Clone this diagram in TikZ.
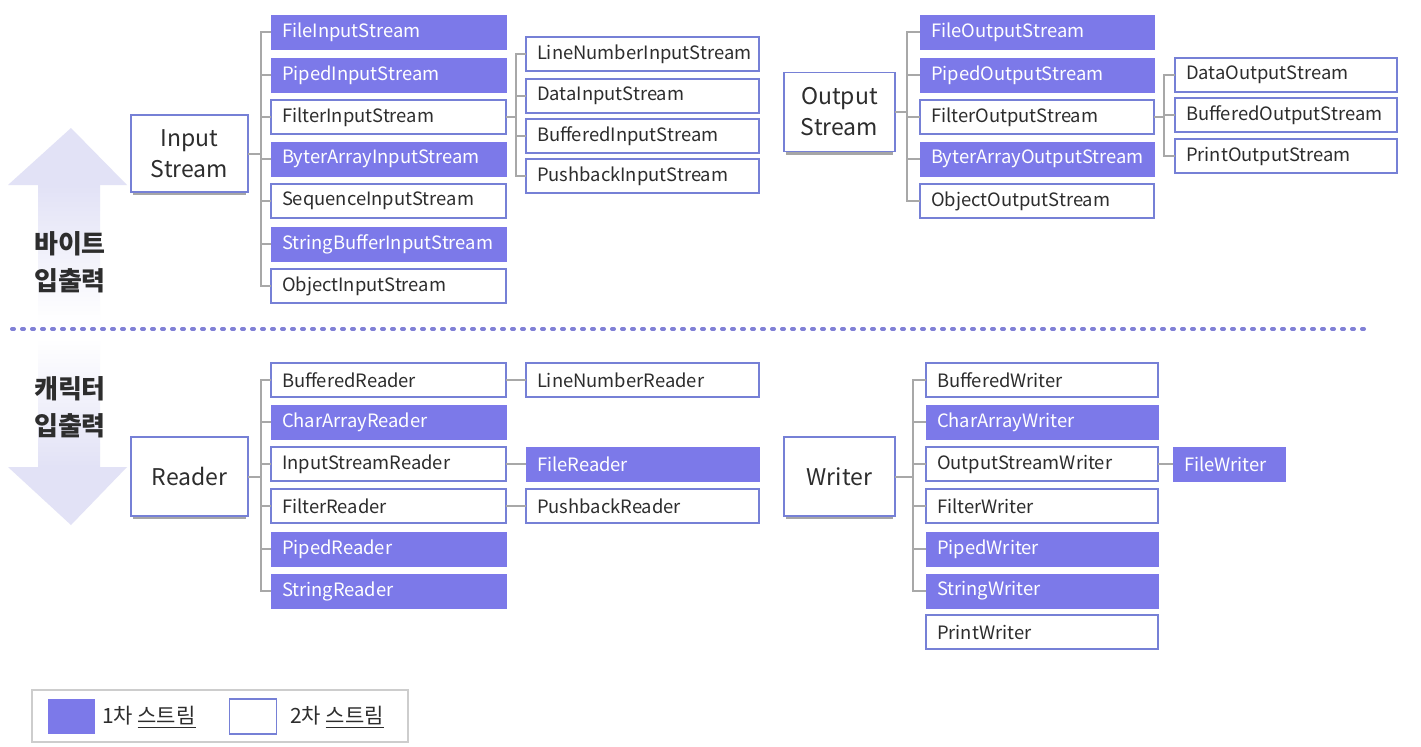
\documentclass[tikz,border=0pt]{standalone}
\usepackage{fontspec}
\setmainfont{Noto Sans CJK KR}
\usetikzlibrary{shadows}
\definecolor{JioPrimary}{RGB}{124,121,233}
\definecolor{JioEdge}{RGB}{118,128,214}
\definecolor{JioInk}{RGB}{45,45,45}
\definecolor{JioLink}{RGB}{168,168,168}
\definecolor{JioDots}{RGB}{128,128,214}
\definecolor{JioArrow}{RGB}{226,226,246}
\definecolor{JioFrame}{RGB}{205,205,205}
\tikzset{
    jio/diagram/.style={
        font=\fontsize{9.2}{11}\selectfont,
        text=JioInk,
        every node/.style={outer sep=0pt}
    },
    jio/cls/.style={
        anchor=west, minimum height=17pt, inner xsep=5.5pt, inner ysep=0pt,
        align=left, yshift=-0.5pt
    },
    jio/primary/.style={jio/cls, fill=JioPrimary, draw=JioPrimary, text=white},
    jio/secondary/.style={jio/cls, fill=white, draw=JioEdge, line width=0.6pt},
    jio/root/.style={
        draw=JioEdge, fill=white, line width=0.6pt, align=center,
        inner sep=0pt, font=\fontsize{11.5}{15.5}\selectfont,
        drop shadow={shadow xshift=0pt, shadow yshift=-2.2pt,
            shadow scale=0.97, fill=black, opacity=0.35}
    },
    jio/link/.style={draw=JioLink, line width=1pt},
    jio/sep/.style={
        draw=JioDots, line width=2pt, line cap=round,
        dash pattern=on 1pt off 4pt
    },
    jio/side/.style={
        align=center, font=\fontsize{13}{18.5}\selectfont\bfseries
    },
    jio/key/.style={minimum width=23.5pt, minimum height=17.5pt, inner sep=0pt},
    jio/keytext/.style={anchor=west, inner sep=0pt, font=\fontsize{10.5}{12}\selectfont}
}
\begin{document}
\begin{tikzpicture}[jio/diagram, x=0.5pt, y=-0.5pt]
    \useasboundingbox[fill=white] (0,0) rectangle (1421,746);
    % side arrows
    \fill[JioArrow] (8,185) -- (71,128) -- (127,185) -- cycle;
    \shade[top color=JioArrow, bottom color=white] (38,185) rectangle (100,322);
    \shade[top color=white, bottom color=JioArrow] (38,338) rectangle (100,467);
    \fill[JioArrow] (8,467) -- (127,467) -- (71,525) -- cycle;
    \node[jio/side] (byteLbl) at (70,262) {바이트\\입출력};
    \node[jio/side] (charLbl) at (70,407) {캐릭터\\입출력};
    \draw[jio/sep] (12,329) -- (1370,329);

    % byte input
    \node[jio/root, minimum width=58.5pt, minimum height=38.5pt] (IS) at (189.5,153.5) {Input\\Stream};
    \foreach \n/\t/\k/\y in {in1/FileInputStream/primary/31, in2/PipedInputStream/primary/74,
        in3/FilterInputStream/secondary/116, in4/ByterArrayInputStream/primary/158,
        in5/SequenceInputStream/secondary/200, in6/StringBufferInputStream/primary/243,
        in7/ObjectInputStream/secondary/285} {
        \node[jio/\k, text width=106.5pt] (\n) at (271,\y) {\t};
    }
    \foreach \n/\t/\y in {fin1/LineNumberInputStream/53, fin2/DataInputStream/95,
        fin3/BufferedInputStream/135, fin4/PushbackInputStream/175} {
        \node[jio/secondary, text width=105.5pt] (\n) at (526,\y) {\t};
    }
    \foreach \i in {1,...,7} {
        \draw[jio/link] (IS.east) -- ++(13,0) |- (in\i.west);
    }
    \foreach \i in {1,...,4} {
        \draw[jio/link] (in3.east) -- ++(10,0) |- (fin\i.west);
    }

    % byte output
    \node[jio/root, minimum width=55.5pt, minimum height=39.5pt] (OS) at (839.5,112) {Output\\Stream};
    \foreach \n/\t/\k/\y in {out1/FileOutputStream/primary/31, out2/PipedOutputStream/primary/74,
        out3/FilterOutputStream/secondary/116, out4/ByterArrayOutputStream/primary/158,
        out5/ObjectOutputStream/secondary/200} {
        \node[jio/\k, text width=106pt] (\n) at (920,\y) {\t};
    }
    \foreach \n/\t/\y in {fout1/DataOutputStream/74, fout2/BufferedOutputStream/114,
        fout3/PrintOutputStream/155} {
        \node[jio/secondary, text width=100pt] (\n) at (1175,\y) {\t};
    }
    \foreach \i in {1,...,5} {
        \draw[jio/link] (OS.east) -- ++(12,0) |- (out\i.west);
    }
    \foreach \i in {1,...,3} {
        \draw[jio/link] (out3.east) -- ++(10,0) |- (fout\i.west);
    }

    % char reader
    \node[jio/root, minimum width=58.5pt, minimum height=39.5pt] (RD) at (189.5,476.5) {Reader};
    \foreach \n/\t/\k/\y in {rd1/BufferedReader/secondary/379, rd2/CharArrayReader/primary/421,
        rd3/InputStreamReader/secondary/463, rd4/FilterReader/secondary/505,
        rd5/PipedReader/primary/548, rd6/StringReader/primary/590} {
        \node[jio/\k, text width=106.5pt] (\n) at (271,\y) {\t};
    }
    \node[jio/secondary, text width=105.5pt] (lnr) at (526,379) {LineNumberReader};
    \node[jio/primary, text width=105.5pt] (fr) at (526,463) {FileReader};
    \node[jio/secondary, text width=105.5pt] (pbr) at (526,505) {PushbackReader};
    \foreach \i in {1,...,6} {
        \draw[jio/link] (RD.east) -- ++(13,0) |- (rd\i.west);
    }
    \draw[jio/link] (rd1) -- (lnr);
    \draw[jio/link] (rd3) -- (fr);
    \draw[jio/link] (rd4) -- (pbr);

    % char writer
    \node[jio/root, minimum width=55.5pt, minimum height=39.5pt] (WR) at (839.5,476.5) {Writer};
    \foreach \n/\t/\k/\y in {wr1/BufferedWriter/secondary/379, wr2/CharArrayWriter/primary/421,
        wr3/OutputStreamWriter/secondary/463, wr4/FilterWriter/secondary/505,
        wr5/PipedWriter/primary/548, wr6/StringWriter/primary/590,
        wr7/PrintWriter/secondary/631} {
        \node[jio/\k, text width=105pt] (\n) at (926,\y) {\t};
    }
    \node[jio/primary, text width=45pt] (fw) at (1173,463) {FileWriter};
    \foreach \i in {1,...,6} {
        \draw[jio/link] (WR.east) -- ++(18,0) |- (wr\i.west);
    }
    \draw[jio/link] (wr3) -- (fw);

    % legend
    \draw[JioFrame, line width=0.6pt] (32,690) rectangle (408,742);
    \node[jio/key, fill=JioPrimary] (key1) at (71.5,716.5) {};
    \node[jio/keytext] (key1txt) at (102,717) {1차 \underline{스트림}};
    \node[jio/key, draw=JioEdge, line width=0.6pt] (key2) at (253,716.5) {};
    \node[jio/keytext] (key2txt) at (290,717) {2차 \underline{스트림}};
\end{tikzpicture}
\end{document}
